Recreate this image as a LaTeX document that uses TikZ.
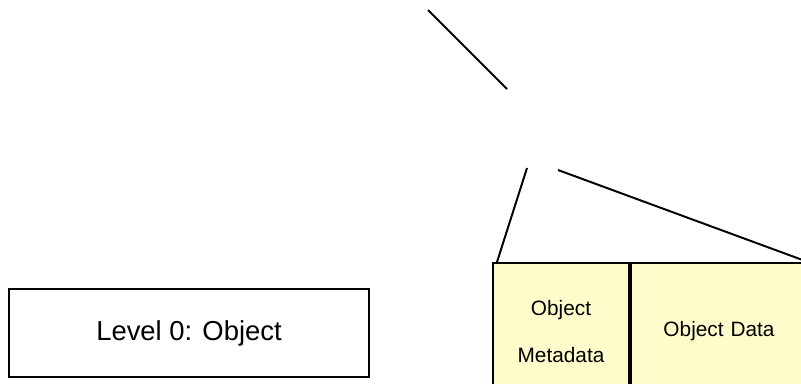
\documentclass[tikz,border=0pt]{standalone}
\usepackage{fontspec}
\setmainfont{Liberation Sans}
\usepackage{tikz}
\usetikzlibrary{positioning}

\begin{document}
\begin{tikzpicture}[x=0.025cm,y=-0.025cm,
box/.style={draw,rectangle,line width=1.4pt,inner sep=0pt,align=center},
part/.style={box,fill=yellow!20,font=\fontsize{14.8}{34}\selectfont},
link/.style={line width=1.4pt}]
\useasboundingbox (0,0) rectangle (801,383);

\node (level) [box,minimum width=9cm,minimum height=2.2cm,
    font=\fontsize{19.5}{23}\selectfont] at (189,333) {Level 0: Object};

\node (meta) [part,minimum width=3.4cm,minimum height=3.425cm] at (561,331.5)
    {Object\\Metadata};
\node (data) [part,minimum width=4.6cm,minimum height=3.425cm,
    right=0pt of meta,text width=4.4cm] {\hspace*{-0.2cm}Object Data};

\coordinate (upper) at (428,10);
\coordinate (lower) at (507,89);
\coordinate (fanl) at (527,168);
\coordinate (fanr) at (558,170);
\draw [link] (upper) -- (lower);
\draw [link] (fanl) -- ([xshift=0.125cm]meta.north west);
\draw [link] (fanr) -- ([xshift=-0.2cm]data.north east);
\end{tikzpicture}
\end{document}
